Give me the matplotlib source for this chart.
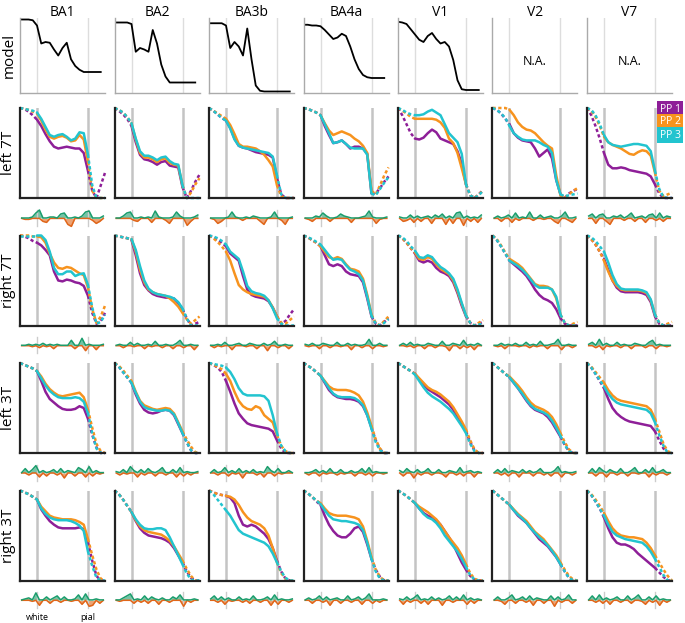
import numpy as np
import matplotlib.pyplot as plt

plt.rcParams['font.family'] = ['Open Sans', 'DejaVu Sans']

areas = ["BA1", "BA2", "BA3b", "BA4a", "V1", "V2", "V7"]
row_names = ["left 7T", "right 7T", "left 3T", "right 3T"]
subjects = ["PP 1", "PP 2", "PP 3"]
colors = ["#8e1f98", "#f7931e", "#22c4cf"]
diff_colors = ["#1a9d6c", "#e0661a"]   # positive, negative

depth = np.linspace(0, 1, 21)
white, pial = 0.2, 0.8

# model profiles (percent of max), None where not available
model = {
    "BA1":  [98, 98, 98, 97, 90, 66, 68, 67, 58, 50, 60, 67, 45, 36, 31, 28, 28, 28, 28, 28],
    "BA2":  [94, 94, 94, 94, 92, 55, 60, 58, 55, 84, 66, 38, 22, 14, 14, 14, 14, 14, 14, 14],
    "BA3b": [93, 93, 93, 93, 90, 60, 68, 62, 50, 86, 45, 10, 3, 2, 2, 2, 2, 2, 2, 2],
    "BA4a": [91, 91, 90, 90, 89, 84, 78, 72, 74, 79, 76, 62, 45, 32, 24, 21, 20, 20, 20, 20],
    "V1":   [95, 94, 92, 85, 78, 71, 68, 76, 80, 72, 66, 68, 62, 44, 17, 5, 4, 4, 4, 4],
    "V2":   None,
    "V7":   None,
}

# profiles per row: [PP1, PP2, PP3], sampled at depth
left7T = {
    "BA1": [[100, 99, 96, 92, 87, 80, 71, 63, 57, 55, 56, 57, 56, 55, 55, 50, 30, 8, 0, 14, 28],
            [100, 99, 98, 96, 94, 86, 76, 68, 66, 68, 69, 67, 63, 64, 70, 65, 40, 8, 0, 0, 0],
            [100, 99, 98, 97, 95, 88, 79, 70, 68, 70, 71, 68, 64, 66, 73, 72, 48, 14, 0, 0, 0]],
    "BA2": [[100, 97, 93, 88, 80, 62, 48, 43, 42, 40, 37, 40, 41, 36, 35, 34, 12, 0, 8, 18, 26],
            [100, 98, 95, 90, 83, 65, 50, 45, 45, 43, 40, 43, 44, 39, 37, 36, 14, 0, 6, 15, 22],
            [100, 98, 95, 90, 83, 66, 52, 47, 47, 45, 42, 45, 46, 41, 38, 37, 14, 0, 0, 0, 0]],
    "BA3b": [[100, 97, 93, 89, 86, 78, 66, 58, 56, 55, 53, 51, 50, 49, 48, 45, 22, 4, 0, 0, 0],
             [100, 97, 94, 91, 88, 81, 71, 60, 57, 57, 56, 55, 52, 48, 42, 35, 14, 2, 0, 0, 0],
             [100, 97, 93, 89, 86, 77, 65, 58, 56, 55, 54, 53, 52, 51, 50, 46, 25, 4, 0, 0, 0]],
    "BA4a": [[100, 99, 97, 95, 92, 80, 70, 61, 62, 64, 60, 55, 57, 57, 55, 49, 5, 5, 11, 18, 24],
             [100, 99, 97, 95, 92, 83, 75, 70, 72, 74, 72, 70, 66, 63, 58, 50, 8, 4, 14, 25, 34],
             [100, 99, 97, 95, 92, 82, 72, 61, 62, 64, 60, 56, 55, 55, 55, 48, 5, 3, 10, 17, 23]],
    "V1": [[100, 92, 82, 72, 66, 65, 67, 72, 76, 73, 66, 64, 62, 60, 52, 38, 15, 3, 0, 4, 9],
           [100, 97, 94, 90, 88, 88, 88, 88, 88, 87, 84, 78, 66, 61, 50, 33, 15, 3, 0, 4, 8],
           [100, 98, 95, 93, 92, 92, 93, 96, 98, 95, 92, 82, 72, 67, 62, 49, 15, 3, 0, 3, 8]],
    "V2": [[100, 98, 94, 88, 82, 72, 67, 64, 63, 62, 55, 46, 50, 54, 44, 20, 4, 0, 5, 8, 10],
           [100, 100, 100, 100, 98, 92, 84, 79, 76, 75, 72, 67, 62, 58, 55, 25, 3, 0, 4, 8, 11],
           [100, 98, 94, 89, 80, 72, 68, 65, 64, 64, 64, 62, 59, 57, 50, 20, 4, 2, 3, 4, 5]],
    "V7": [[100, 92, 80, 66, 50, 37, 33, 33, 34, 33, 31, 30, 29, 28, 27, 24, 15, 5, 0, 0, 0],
           [100, 97, 90, 80, 68, 62, 59, 57, 55, 52, 49, 48, 51, 53, 52, 47, 28, 8, 2, 4, 6],
           [100, 98, 92, 82, 70, 62, 59, 58, 57, 58, 59, 60, 60, 59, 58, 52, 30, 10, 1, 0, 0]],
}
right7T = {
    "BA1": [[100, 99, 97, 94, 92, 89, 84, 78, 60, 50, 49, 51, 50, 48, 47, 44, 33, 14, 2, 5, 14],
            [100, 100, 100, 99, 99, 98, 92, 80, 70, 64, 63, 65, 64, 61, 58, 56, 42, 18, 3, 10, 22],
            [100, 100, 100, 100, 100, 100, 95, 82, 64, 57, 57, 60, 60, 55, 57, 58, 45, 20, 2, 4, 12]],
    "BA2": [[100, 99, 98, 97, 95, 78, 58, 45, 39, 35, 33, 32, 31, 31, 30, 25, 18, 8, 0, 2, 4],
            [100, 99, 98, 97, 96, 82, 62, 48, 40, 37, 35, 34, 33, 30, 26, 21, 14, 7, 2, 6, 10],
            [100, 99, 98, 97, 96, 84, 66, 50, 41, 37, 35, 34, 33, 32, 30, 26, 19, 8, 0, 0, 0]],
    "BA3b": [[100, 98, 95, 92, 88, 80, 76, 72, 55, 40, 34, 32, 31, 30, 27, 20, 10, 2, 5, 12, 18],
             [100, 97, 93, 88, 82, 72, 58, 45, 40, 37, 35, 34, 33, 32, 28, 20, 10, 3, 2, 6, 10],
             [100, 99, 97, 94, 90, 82, 78, 74, 60, 44, 38, 36, 35, 33, 28, 19, 8, 2, 0, 0, 0]],
    "BA4a": [[100, 98, 95, 92, 88, 78, 68, 66, 68, 66, 60, 57, 56, 55, 48, 30, 10, 2, 0, 4, 8],
             [100, 98, 95, 92, 88, 82, 76, 74, 76, 74, 68, 63, 62, 60, 52, 34, 12, 3, 0, 5, 10],
             [100, 98, 96, 93, 90, 84, 78, 73, 74, 73, 67, 62, 60, 57, 50, 32, 11, 2, 0, 3, 7]],
    "V1": [[100, 97, 92, 86, 80, 72, 70, 72, 70, 64, 60, 58, 55, 48, 36, 22, 10, 3, 0, 2, 4],
           [100, 97, 92, 86, 81, 74, 73, 76, 74, 68, 63, 60, 57, 50, 38, 24, 11, 3, 0, 3, 6],
           [100, 98, 94, 88, 83, 76, 75, 78, 76, 70, 65, 62, 58, 52, 40, 25, 11, 3, 0, 1, 2]],
    "V2": [[100, 95, 88, 80, 72, 68, 64, 60, 55, 48, 40, 34, 30, 28, 25, 18, 8, 2, 0, 0, 0],
           [100, 96, 89, 81, 74, 71, 68, 64, 58, 52, 46, 44, 44, 43, 40, 30, 12, 3, 0, 2, 4],
           [100, 95, 88, 80, 72, 69, 66, 62, 57, 51, 45, 42, 42, 42, 40, 32, 12, 3, 0, 0, 0]],
    "V7": [[100, 96, 90, 82, 74, 62, 50, 42, 38, 37, 37, 37, 37, 36, 34, 26, 10, 2, 0, 0, 0],
           [100, 96, 90, 82, 72, 60, 50, 44, 40, 39, 39, 39, 39, 38, 36, 28, 12, 3, 0, 2, 4],
           [100, 98, 94, 88, 82, 70, 56, 46, 41, 40, 40, 40, 40, 39, 37, 29, 12, 3, 0, 0, 0]],
}
left3T = {
    "BA1": [[100, 98, 96, 94, 91, 80, 68, 60, 56, 52, 49, 48, 48, 49, 52, 50, 38, 20, 6, 0, 0],
            [100, 98, 96, 94, 91, 85, 77, 71, 67, 64, 63, 64, 65, 66, 67, 62, 48, 28, 10, 2, 0],
            [100, 98, 96, 94, 91, 83, 75, 69, 65, 62, 61, 61, 61, 62, 61, 57, 44, 22, 5, 0, 0]],
    "BA2": [[100, 96, 90, 84, 78, 65, 55, 48, 45, 44, 45, 47, 48, 47, 42, 32, 22, 12, 3, 0, 0],
            [100, 97, 92, 86, 80, 68, 58, 53, 51, 49, 48, 49, 50, 49, 44, 34, 24, 15, 7, 1, 0],
            [100, 96, 90, 84, 78, 67, 57, 51, 49, 48, 47, 47, 48, 47, 43, 33, 22, 12, 3, 0, 0]],
    "BA3b": [[100, 98, 95, 90, 80, 68, 55, 44, 38, 33, 31, 30, 29, 28, 27, 24, 14, 5, 0, 0, 0],
             [100, 98, 96, 93, 88, 80, 68, 58, 52, 49, 48, 52, 50, 42, 38, 34, 20, 8, 2, 0, 0],
             [100, 99, 98, 97, 95, 90, 82, 72, 66, 64, 64, 64, 64, 63, 58, 42, 22, 8, 2, 0, 0]],
    "BA4a": [[100, 97, 94, 90, 86, 78, 70, 65, 62, 61, 60, 60, 59, 57, 52, 42, 28, 14, 4, 0, 0],
             [100, 97, 94, 90, 86, 80, 74, 71, 70, 70, 70, 69, 67, 64, 57, 45, 30, 15, 5, 0, 0],
             [100, 97, 94, 90, 86, 79, 72, 66, 63, 62, 62, 62, 61, 58, 53, 42, 27, 12, 3, 0, 0]],
    "V1": [[100, 97, 94, 91, 88, 82, 76, 71, 68, 65, 62, 58, 54, 48, 40, 32, 24, 12, 3, 0, 0],
           [100, 97, 94, 91, 88, 83, 78, 73, 70, 68, 65, 61, 57, 51, 43, 35, 26, 14, 4, 0, 0],
           [100, 97, 94, 91, 87, 80, 73, 67, 63, 60, 57, 53, 49, 44, 37, 30, 22, 10, 2, 0, 0]],
    "V2": [[100, 96, 92, 88, 84, 78, 72, 65, 58, 52, 48, 46, 44, 40, 34, 26, 18, 9, 2, 0, 0],
           [100, 96, 92, 88, 85, 80, 75, 69, 62, 56, 52, 50, 48, 45, 40, 32, 22, 12, 4, 0, 0],
           [100, 96, 92, 88, 84, 78, 72, 66, 59, 53, 49, 47, 45, 42, 36, 28, 19, 9, 2, 0, 0]],
    "V7": [[100, 95, 88, 80, 72, 60, 50, 44, 40, 37, 35, 34, 33, 32, 31, 30, 24, 14, 5, 0, 0],
           [100, 96, 90, 84, 78, 70, 64, 60, 58, 57, 56, 55, 54, 53, 52, 48, 38, 24, 10, 2, 0],
           [100, 95, 88, 81, 74, 66, 60, 56, 54, 53, 52, 51, 50, 49, 48, 44, 34, 20, 8, 0, 0]],
}
right3T = {
    "BA1": [[100, 98, 96, 93, 90, 79, 72, 66, 62, 59, 58, 58, 58, 58, 59, 57, 42, 22, 5, 0, 0],
            [100, 98, 96, 93, 90, 82, 77, 72, 70, 69, 68, 68, 68, 67, 65, 62, 46, 28, 12, 2, 0],
            [100, 98, 96, 93, 90, 80, 74, 70, 68, 67, 67, 67, 66, 64, 61, 55, 32, 16, 3, 0, 0]],
    "BA2": [[100, 96, 90, 83, 76, 66, 58, 53, 50, 49, 48, 47, 45, 42, 36, 28, 20, 10, 3, 0, 0],
            [100, 96, 90, 83, 76, 67, 60, 56, 54, 53, 52, 51, 48, 44, 38, 30, 22, 13, 5, 0, 0],
            [100, 96, 90, 83, 76, 68, 62, 58, 57, 57, 58, 58, 56, 48, 38, 28, 18, 8, 1, 0, 0]],
    "BA3b": [[100, 98, 96, 95, 94, 92, 86, 72, 62, 60, 62, 60, 56, 52, 46, 36, 22, 10, 2, 0, 0],
             [100, 98, 96, 95, 94, 93, 90, 84, 76, 70, 66, 64, 62, 58, 50, 36, 20, 8, 2, 0, 0],
             [100, 96, 90, 84, 78, 72, 64, 56, 52, 50, 48, 46, 44, 42, 38, 30, 20, 10, 3, 0, 0]],
    "BA4a": [[100, 97, 93, 88, 84, 72, 62, 55, 50, 48, 48, 52, 58, 60, 54, 40, 24, 12, 4, 0, 0],
             [100, 97, 93, 89, 86, 80, 75, 73, 72, 72, 72, 71, 70, 68, 60, 44, 26, 12, 4, 0, 0],
             [100, 97, 93, 89, 85, 78, 72, 68, 67, 66, 66, 65, 64, 62, 56, 42, 24, 10, 2, 0, 0]],
    "V1": [[100, 97, 94, 90, 86, 80, 75, 72, 70, 67, 62, 55, 48, 40, 30, 20, 12, 5, 1, 0, 0],
           [100, 97, 94, 90, 86, 82, 79, 76, 72, 68, 62, 55, 48, 42, 36, 28, 18, 8, 2, 0, 0],
           [100, 97, 94, 90, 86, 80, 74, 70, 68, 64, 58, 50, 44, 38, 32, 24, 15, 6, 1, 0, 0]],
    "V2": [[100, 96, 92, 88, 84, 78, 72, 68, 64, 58, 52, 46, 42, 38, 32, 26, 18, 10, 3, 0, 0],
           [100, 96, 92, 88, 84, 79, 74, 70, 66, 60, 54, 50, 46, 40, 34, 28, 20, 12, 5, 1, 0],
           [100, 96, 92, 88, 84, 78, 73, 69, 64, 58, 53, 48, 44, 39, 33, 26, 18, 10, 3, 0, 0]],
    "V7": [[100, 95, 88, 80, 70, 58, 48, 42, 40, 40, 38, 35, 30, 26, 22, 18, 14, 9, 4, 0, 0],
           [100, 96, 90, 83, 75, 66, 58, 53, 50, 49, 48, 48, 47, 46, 42, 36, 28, 20, 12, 5, 0],
           [100, 95, 88, 80, 72, 62, 54, 50, 48, 46, 45, 44, 43, 42, 38, 32, 24, 15, 6, 0, 0]],
}
profiles = [left7T, right7T, left3T, right3T]

# difference traces under each panel
diff_depth = np.linspace(0.02, 0.98, 24)
diff_left7T = {
    "BA1": [0, -1, -1, 1, 5, 8, -3, -4, 1, 1, 0, 4, 5, -6, -8, 1, 0, 2, 6, 7, -2, -5, -3, 2],
    "BA2": [0, 0, 2, 5, 6, -2, -3, 1, 0, 1, -4, 7, 1, 0, -2, -5, 1, 6, 2, 0, -7, -3, 1, 3],
    "BA3b": [0, -1, -5, -3, 0, 1, 6, 1, 0, -2, 1, 0, 2, 1, -3, -6, 0, 1, 6, 0, -2, -6, 0, 1],
    "BA4a": [0, -1, -3, 2, 1, 5, 2, -3, 0, 1, 4, 2, 1, -4, 0, 0, 1, 2, 7, 1, -5, -1, 0, 1],
    "V1": [1, -3, -2, 3, -4, 2, -3, 1, 2, -5, 3, 1, 4, -6, 2, -5, 5, 6, -7, 2, -3, 1, -4, 3],
    "V2": [0, 2, -3, 1, 3, -4, 5, -2, 1, 0, 6, -2, 0, 3, -1, 1, 2, -3, -5, 2, 6, -2, -4, 1],
    "V7": [2, 4, -5, 3, 4, -3, -6, 2, 1, 3, -2, 2, 5, -3, 1, 2, -4, 3, 4, -2, 5, -3, 2, 1],
}
diff_right7T = {
    "BA1": [0, 0, 1, -1, 1, -2, 2, -1, 1, -3, 1, 0, 0, 0, 5, -3, 0, 7, -5, 1, 0, -4, 0, 1],
    "BA2": [0, 1, -2, 0, 3, -1, 2, 0, -3, 1, -1, 4, 0, -2, 1, 0, -3, 2, 5, -2, 0, 1, -4, 0],
    "BA3b": [0, -2, 1, -1, 3, 0, -4, 1, 2, 0, -1, 2, 1, -3, 0, 2, -5, 1, 4, -2, 0, 1, -3, 0],
    "BA4a": [1, -1, 2, 0, -3, 2, 1, -2, 0, 3, -1, 0, 2, -4, 1, 0, -2, 1, 6, -3, 0, 2, -1, 0],
    "V1": [0, 2, -1, 3, -2, 1, 0, -3, 2, 1, -2, 0, 4, -1, -5, 2, 1, -3, 5, -2, 1, -4, 2, 0],
    "V2": [0, -1, 2, -3, 1, 0, 2, -1, 0, 3, -2, 1, -1, 4, 0, -3, 1, 2, 6, -4, 0, 1, -2, 0],
    "V7": [1, 3, -2, 6, -4, 2, -1, 0, 3, -2, 1, 0, -3, 2, 1, 0, -2, 3, 5, -3, 1, 0, -1, 0],
}
diff_left3T = {
    "BA1": [0, 4, -2, 3, 7, -4, 2, -3, 1, 3, -2, 4, -5, 2, 1, -3, 5, 3, -4, 6, -3, 2, -1, 0],
    "BA2": [1, -2, 3, -1, 6, 2, -4, 3, -2, 4, 1, -3, 2, 5, -2, 0, 3, -4, 5, -3, 1, -2, 0, 1],
    "BA3b": [0, 3, -2, 1, 5, -3, 2, -1, 4, -5, 2, 0, 3, -2, 1, -4, 6, 2, -3, 4, -1, 0, 2, 0],
    "BA4a": [0, -2, 1, 3, -3, 2, -1, 4, 0, -2, 3, -1, 0, 2, -3, 1, 4, -2, 5, -3, 1, 0, -1, 0],
    "V1": [2, -3, 4, 1, -5, 3, -2, 1, 4, -2, 0, 3, -1, -4, 2, 1, -2, 5, -3, 1, 2, -4, 1, 0],
    "V2": [0, 3, -2, 4, -3, 2, 1, -4, 3, 0, 2, -3, 1, 4, -2, 0, -3, 2, 6, -4, 1, 0, -2, 1],
    "V7": [0, 4, -3, 5, 2, -4, 3, 1, -2, 4, 0, -3, 2, 5, -1, 0, 3, -4, 5, -2, 1, 3, -2, 0],
}
diff_right3T = {
    "BA1": [0, 1, 2, -1, 7, -5, 0, 3, -3, 2, 4, -2, 3, 0, -1, 1, 5, -4, 6, -6, -5, 1, -3, 0],
    "BA2": [0, -1, 2, 4, 6, -3, 1, -2, 4, -3, 3, 1, -4, 2, 0, -2, 3, 1, 5, -6, 0, -2, 1, 0],
    "BA3b": [1, 4, -2, 3, -4, 2, -1, 0, 3, -2, 1, -3, 4, 0, -2, 1, 3, -5, 5, -4, 1, 0, -2, 1],
    "BA4a": [0, 2, -3, 1, 4, -2, 3, -5, 1, 2, -3, 0, 4, -2, 1, 3, -4, 2, 6, -3, 0, -2, 1, 0],
    "V1": [1, -4, 3, -2, 2, 5, -3, 1, -4, 3, 0, 2, -5, 1, 4, -2, 3, 0, 5, -4, 2, -3, 1, 0],
    "V2": [0, 3, -1, -4, 2, 5, -3, 1, 3, -2, 4, -5, 2, 1, -3, 0, 4, -6, 3, -2, 1, 5, -3, 0],
    "V7": [0, 4, -2, 5, -3, 2, -4, 1, 3, -2, 0, 4, -3, 2, 5, -1, -4, 3, -2, 4, -5, 1, -2, 0],
}
diffs = [diff_left7T, diff_right7T, diff_left3T, diff_right3T]

W, H = 685, 623
fig = plt.figure(figsize=(W / 100, H / 100), dpi=100)


def add_ax(left, top, w, h):
    return fig.add_axes([left / W, 1 - (top + h) / H, w / W, h / H])


col_left = [20 + 94.5 * c for c in range(7)]
pw = 85
prof_top = [108 + 127.5 * r for r in range(4)]
ph = 90
strip_mid = [218 + 127.3 * r for r in range(4)]

for c, area in enumerate(areas):
    # model row
    ax = add_ax(col_left[c], 18, pw, 75)
    ax.set_xlim(0, 1)
    ax.set_ylim(0, 1)
    for s in ["top", "right"]:
        ax.spines[s].set_visible(False)
    for s in ["left", "bottom"]:
        ax.spines[s].set_color("#aaaaaa")
        ax.spines[s].set_linewidth(1.0)
    ax.set_xticks([])
    ax.set_yticks([])
    ax.axvline(white, color="#dddddd", lw=1, zorder=0)
    ax.axvline(pial, color="#dddddd", lw=1, zorder=0)
    if model[area] is not None:
        y = np.array(model[area]) / 100
        ax.plot(depth[:len(y)], y, color="black", lw=1.3)
    else:
        ax.text(0.5, 0.42, "N.A.", ha="center", va="center", fontsize=9)
    fig.text((col_left[c] + pw / 2) / W, 1 - 12 / H, area,
             ha="center", va="center", fontsize=10)

    for r in range(4):
        ax = add_ax(col_left[c], prof_top[r], pw, ph)
        ax.set_xlim(0, 1)
        ax.set_ylim(0, 1)
        for s in ["top", "right"]:
            ax.spines[s].set_visible(False)
        for s in ["left", "bottom"]:
            ax.spines[s].set_color("#222222")
            ax.spines[s].set_linewidth(1.6)
        ax.set_xticks([])
        ax.set_yticks([])
        ax.axvline(white, color="#c4c4c4", lw=1.8, zorder=0)
        ax.axvline(pial, color="#c4c4c4", lw=1.8, zorder=0)
        inner = (depth >= white - 1e-9) & (depth <= pial + 1e-9)
        lo = depth <= white + 1e-9
        hi = depth >= pial - 1e-9
        for k in range(3):
            y = np.array(profiles[r][area][k]) / 100
            ax.plot(depth[inner], y[inner], color=colors[k], lw=1.8,
                    solid_capstyle="round", clip_on=False)
            for m in (lo, hi):
                ax.plot(depth[m], y[m], color=colors[k], lw=1.8,
                        linestyle=(0, (1.3, 1.0)), clip_on=False)

        # difference strip
        sx = add_ax(col_left[c], strip_mid[r] - 10, pw, 20)
        sx.set_xlim(0, 1)
        sx.set_ylim(-10, 10)
        sx.axis("off")
        sx.plot([white, white], [-8, 8], color="#cccccc", lw=1)
        sx.plot([pial, pial], [-8, 8], color="#cccccc", lw=1)
        d = np.array(diffs[r][area], dtype=float)
        neg = np.minimum(d, 0) - 0.4
        pos = np.maximum(d, 0)
        sx.fill_between(diff_depth, -0.4, neg, color=diff_colors[1], lw=0, alpha=0.6)
        sx.plot(diff_depth, neg, color=diff_colors[1], lw=1.1)
        sx.fill_between(diff_depth, 0, pos, color=diff_colors[0], lw=0, alpha=0.6)
        sx.plot(diff_depth, pos, color=diff_colors[0], lw=1.1)

# row labels
fig.text(9 / W, 1 - 55 / H, "model", rotation=90, ha="center", va="center", fontsize=11)
for r, name in enumerate(row_names):
    fig.text(9 / W, 1 - (prof_top[r] + ph / 2) / H, name, rotation=90,
             ha="center", va="center", fontsize=11)

# depth labels under first column
fig.text((col_left[0] + white * pw) / W, 1 - 617 / H, "white",
         ha="center", va="center", fontsize=6.5)
fig.text((col_left[0] + pial * pw) / W, 1 - 617 / H, "pial",
         ha="center", va="center", fontsize=6.5)

# legend boxes
for k, name in enumerate(subjects):
    fig.text(670 / W, 1 - (109 + 13 * k) / H, name, ha="center", va="center",
             fontsize=7.5, color="white",
             bbox=dict(boxstyle="square,pad=0.25", facecolor=colors[k], edgecolor="none"))

fig.savefig("out.png", dpi=100)
